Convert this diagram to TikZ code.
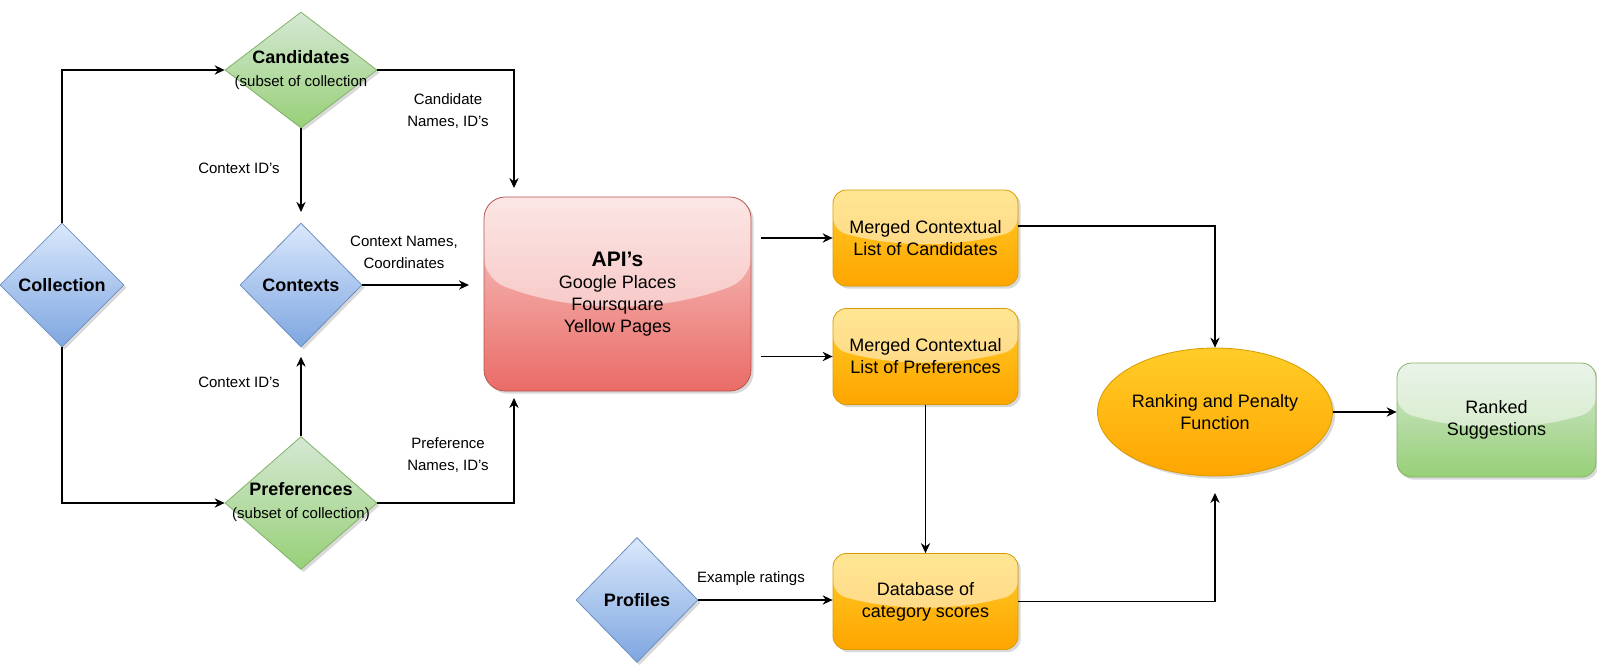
\documentclass[tikz,border=0pt]{standalone}
\usepackage{fontspec}
\setmainfont{Liberation Sans}
\usetikzlibrary{shapes.geometric,arrows.meta,shadows,calc}

\definecolor{blueTop}{HTML}{DAE8FC}
\definecolor{blueBot}{HTML}{7EA6E0}
\definecolor{blueLine}{HTML}{6C8EBF}
\definecolor{greenTop}{HTML}{D5E8D4}
\definecolor{greenBot}{HTML}{97D077}
\definecolor{greenLine}{HTML}{82B366}
\definecolor{redTop}{HTML}{F8CECC}
\definecolor{redBot}{HTML}{EA6B66}
\definecolor{redLine}{HTML}{B85450}
\definecolor{orangeTop}{HTML}{FFCD28}
\definecolor{orangeBot}{HTML}{FFA500}
\definecolor{orangeLine}{HTML}{D79B00}

\tikzset{
  softshadow/.style={drop shadow={shadow xshift=2pt,shadow yshift=-2pt,opacity=0.3}},
  glass/.style={path picture={
      \coordinate (gnw) at (path picture bounding box.north west);
      \coordinate (gse) at (path picture bounding box.south east);
      \coordinate (ga) at ($(gnw)!0.333!(gnw-|gse)$);
      \coordinate (gc) at ($(gnw)!0.667!(gnw-|gse)$);
      \coordinate (gl) at ($(gnw)!0.42!(gnw|-gse)$);
      \coordinate (gr) at ($(gnw-|gse)!0.42!(gse)$);
      \coordinate (gb) at ($(gnw)!0.6!(gnw|-gse)$);
      \fill[white,fill opacity=0.5] (gnw) -- (gl) .. controls (ga|-gb) and (gc|-gb) .. (gr) -- (gnw-|gse) -- cycle;
  }},
  txt/.style={align=center, font=\fontsize{13.5}{16.5}\selectfont},
  lbl/.style={align=center, font=\fontsize{11.25}{16.5}\selectfont},
  bluedia/.style={diamond, draw=blueLine, line width=0.6pt, top color=blueTop, bottom color=blueBot,
    inner sep=0pt, softshadow, font=\fontsize{13.5}{16.5}\selectfont\bfseries},
  greendia/.style={diamond, draw=greenLine, line width=0.6pt, top color=greenTop, bottom color=greenBot,
    inner sep=0pt, softshadow, minimum width=114pt},
  apibox/.style={rectangle, rounded corners=16pt, draw=redLine, line width=0.6pt, top color=redTop,
    bottom color=redBot, glass, softshadow, minimum width=200.25pt, minimum height=145.5pt, txt},
  orangebox/.style={rectangle, rounded corners=10pt, draw=orangeLine, line width=0.6pt, top color=orangeTop,
    bottom color=orangeBot, glass, softshadow, minimum width=138.75pt, minimum height=72pt, txt},
  rankell/.style={ellipse, draw=orangeLine, line width=0.6pt, top color=orangeTop, bottom color=orangeBot,
    softshadow, minimum width=138.75pt, minimum height=96pt, inner sep=0pt, txt},
  greenbox/.style={rectangle, rounded corners=11pt, draw=greenLine, line width=0.6pt, top color=greenTop,
    bottom color=greenBot, glass, softshadow, minimum width=149.25pt, minimum height=85.5pt, txt},
  arr/.style={-{Stealth[length=7.5pt,width=7pt,inset=2.5pt]}, line width=0.8pt}
}

\begin{document}
\begin{tikzpicture}[x=0.75pt, y=-0.75pt]
    \useasboundingbox (0,0) rectangle (1597,665);

    % Diamonds on the left
    \node[bluedia, minimum width=93pt, minimum height=93pt] (coll) at (62,285) {Collection};
    \node[greendia, minimum height=87pt] (cand) at (301,70) {};
    \node[txt] (candtxt) at (301,70) {\textbf{Candidates}\\[1pt]{\fontsize{11.25}{13}\selectfont (subset of collection}};
    \node[bluedia, minimum width=91.5pt, minimum height=93pt] (ctx) at (301,285) {Contexts};
    \node[greendia, minimum height=99.75pt] (pref) at (301,503) {};
    \node[txt] (preftxt) at (301,502) {\textbf{Preferences}\\[1pt]{\fontsize{11.25}{13}\selectfont (subset of collection)}};
    \node[bluedia, minimum width=91.5pt, minimum height=93.75pt] (prof) at (637,600) {Profiles};

    % Boxes
    \node[apibox] (api) at (617.5,294) {{\fontsize{15.75}{16.5}\selectfont\bfseries API's}\\Google Places\\Foursquare\\Yellow Pages};
    \node[orangebox] (mcand) at (925.5,238) {Merged Contextual\\List of Candidates};
    \node[orangebox] (mpref) at (925.5,356.5) {Merged Contextual\\List of Preferences};
    \node[orangebox] (db) at (925.5,601.5) {Database of\\category scores};
    \node[rankell] (rank) at (1215,412) {Ranking and Penalty\\Function};
    \node[greenbox] (sugg) at (1496.5,420) {Ranked\\Suggestions};

    % Free ends
    \coordinate (capi) at (514,188);
    \coordinate (papi) at (514,398);
    \coordinate (drank) at (1215,493);

    % Connectors
    \draw[arr] (coll) |- (cand);
    \draw[arr] (coll) |- (pref);
    \draw[arr] (cand) -| (capi);
    \draw[arr, shorten >=8pt] (cand) -- (ctx);
    \draw[arr, shorten >=7pt] (pref) -- (ctx);
    \draw[arr, shorten >=11pt] (ctx) -- (ctx -| api.west);
    \draw[arr] (pref) -| (papi);
    \draw[arr, shorten <=7pt] (api.east |- mcand) -- (mcand);
    \draw[arr, shorten <=7pt] (api.east |- mpref) -- (mpref);
    \draw[arr] ([yshift=9pt]mcand.east) -| (rank);
    \draw[arr] (mpref) -- (db);
    \draw[arr] (prof) -- (prof -| db.west);
    \draw[arr] (db) -| (drank);
    \draw[arr] (rank) -- (rank -| sugg.west);

    % Edge labels
    \node[lbl] (lcand) at (448,111) {Candidate\\Names, ID's};
    \node[lbl] (lctxa) at (239,168) {Context ID's};
    \node[lbl] (lctxb) at (404,252) {Context Names,\\Coordinates};
    \node[lbl] (lctxc) at (239,382) {Context ID's};
    \node[lbl] (lpref) at (448,455) {Preference\\Names, ID's};
    \node[lbl] (lprof) at (751,579) {Example ratings};
\end{tikzpicture}
\end{document}
